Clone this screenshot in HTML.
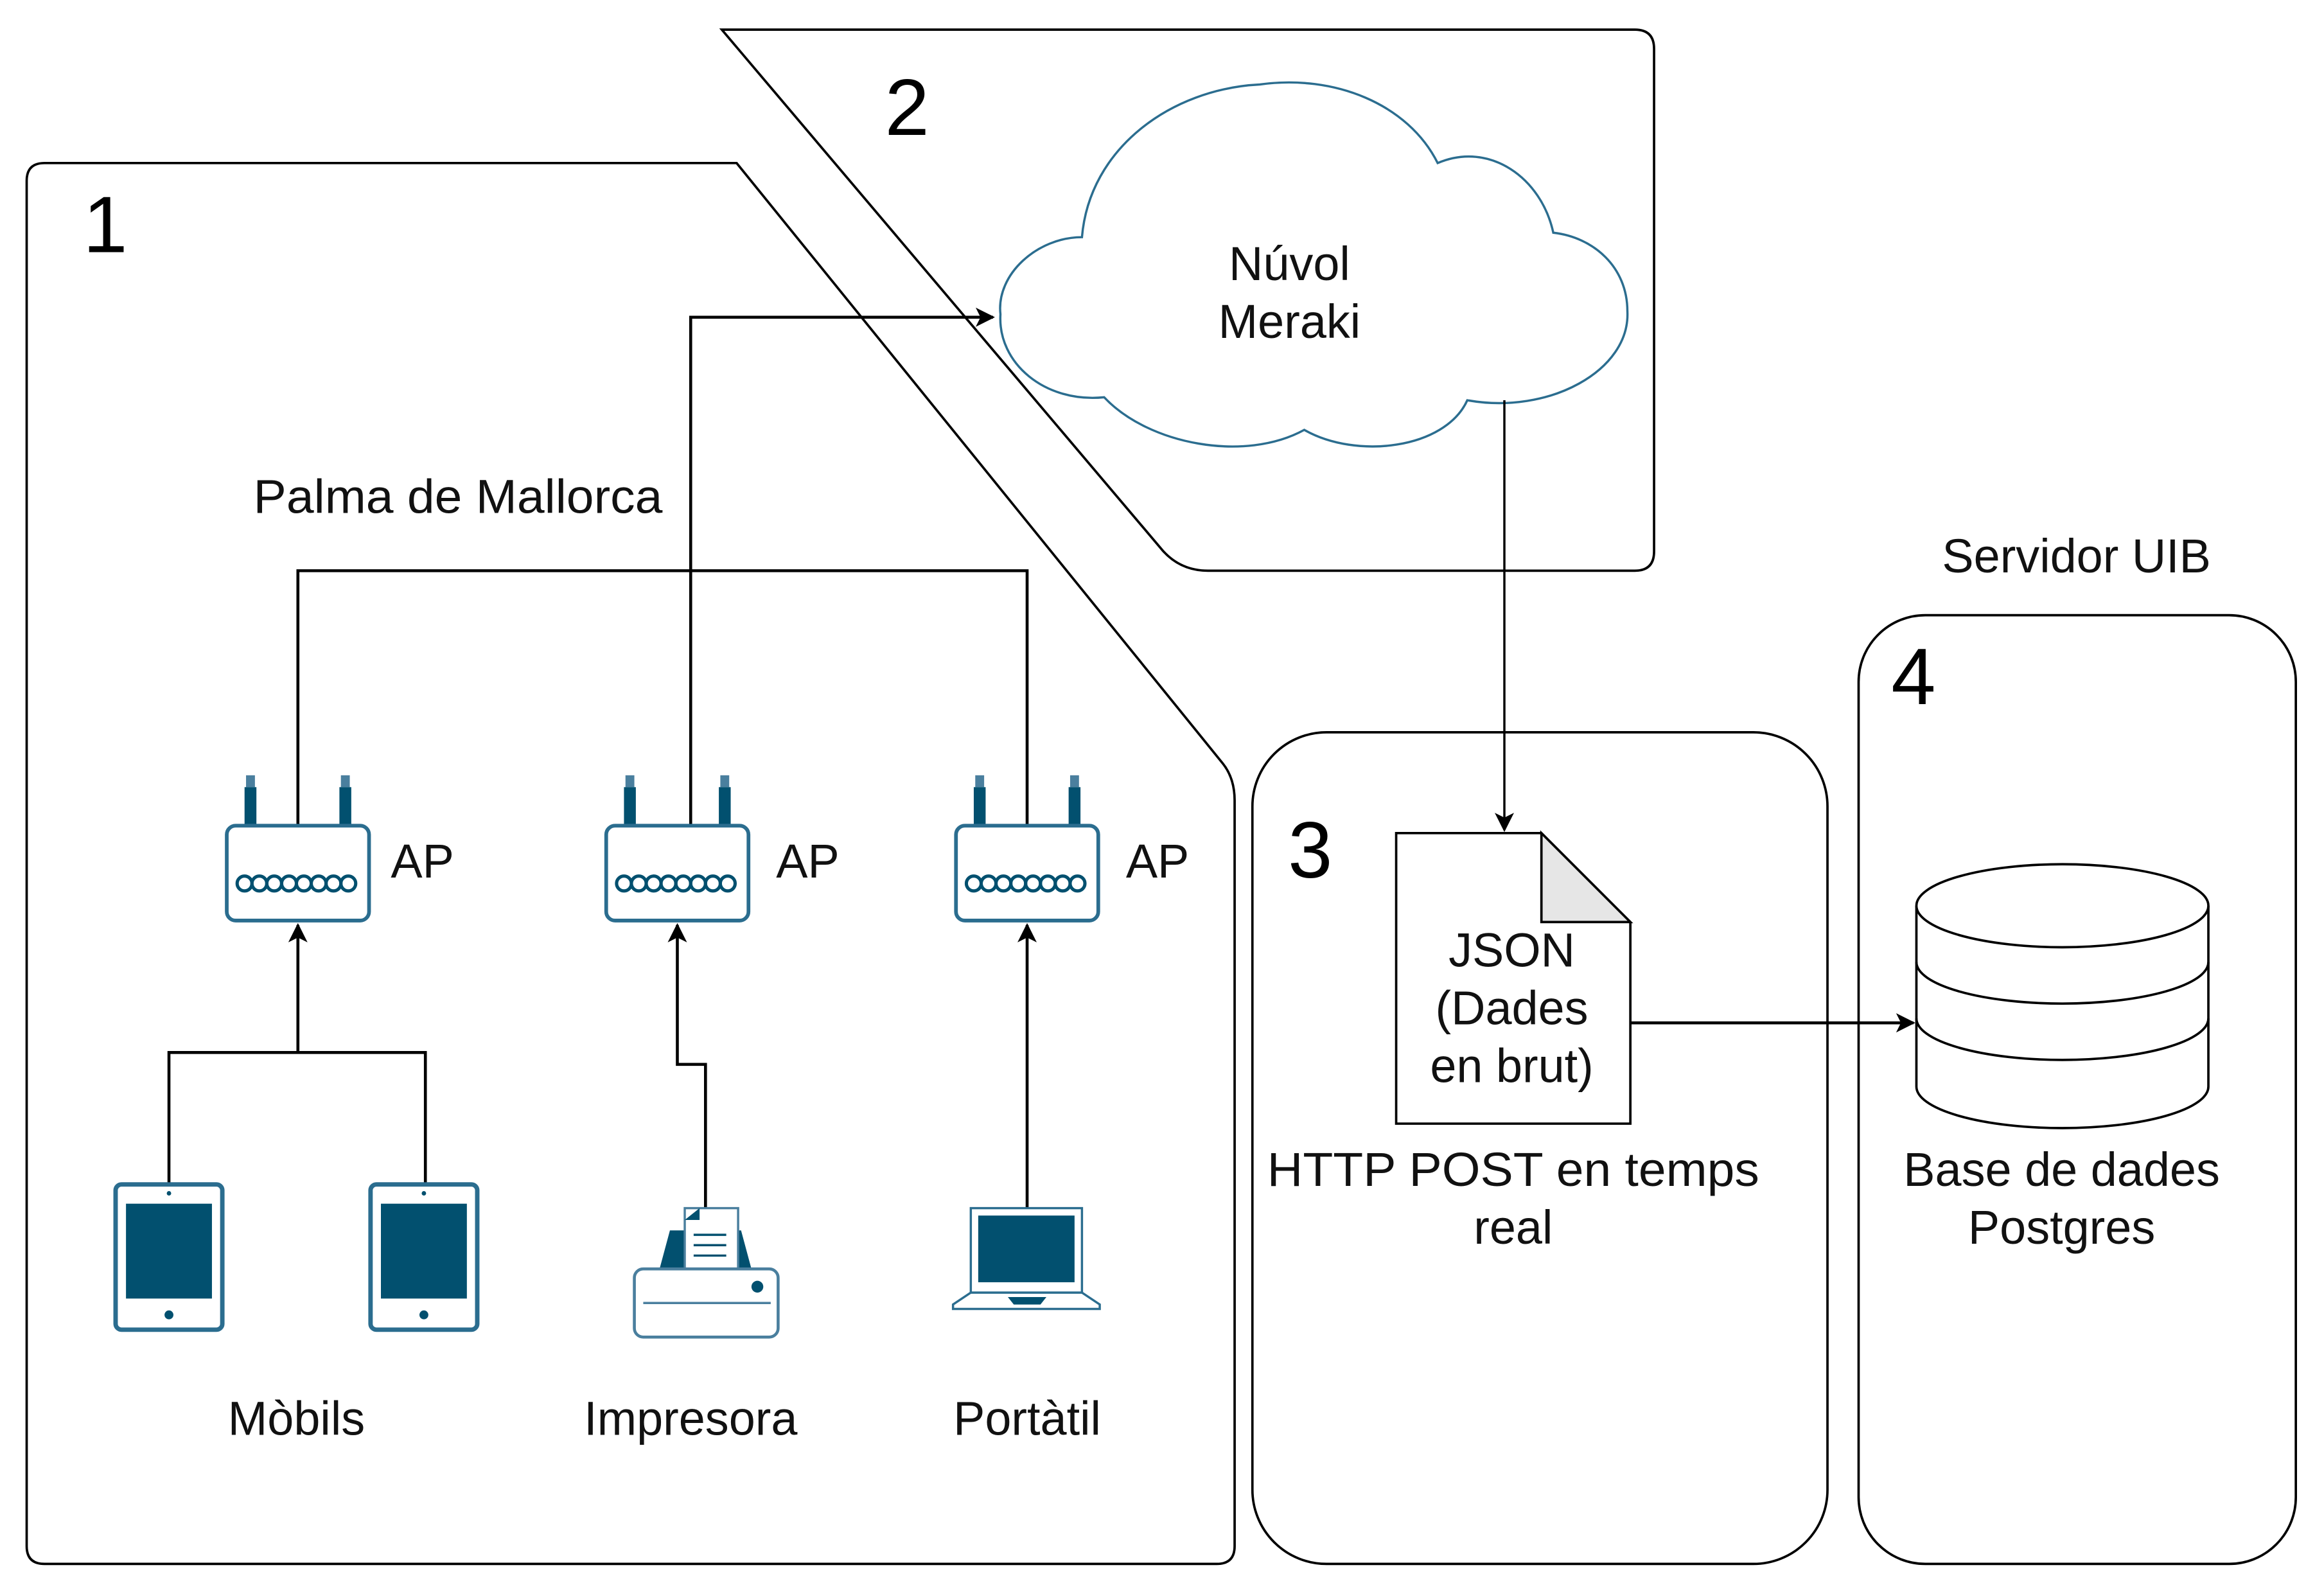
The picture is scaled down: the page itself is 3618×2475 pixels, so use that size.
<!DOCTYPE html>
<html><head><meta charset="utf-8"><style>html,body{margin:0;padding:0;background:#fff}svg{display:block}</style></head>
<body>
<svg width="3618" height="2475" viewBox="0 0 1568 1072.6" preserveAspectRatio="none" xmlns="http://www.w3.org/2000/svg" font-family="'Liberation Sans', sans-serif">
<defs>
<marker id="ar" viewBox="0 0 10 10" refX="9" refY="5" markerWidth="14" markerHeight="13" orient="auto" markerUnits="userSpaceOnUse"><path d="M0,0 L10,5 L0,10 L2.5,5 Z" fill="#000"/></marker>
<g id="ap">
 <rect x="-3" y="-34" width="6" height="8" fill="#4a7f9e"/><rect x="-4" y="-26" width="8" height="26" fill="#02506f"/>
</g>
<g id="router">
 <use href="#ap" x="-32"/><use href="#ap" x="32"/>
 <rect x="-48" y="0" width="96" height="64" rx="6" fill="#fff" stroke="#2b6d8f" stroke-width="2.5"/>
 <g fill="none" stroke="#02506f" stroke-width="2.2">
  <circle cx="-36" cy="39" r="5"/><circle cx="-26" cy="39" r="5"/><circle cx="-16" cy="39" r="5"/><circle cx="-6" cy="39" r="5"/><circle cx="4" cy="39" r="5"/><circle cx="14" cy="39" r="5"/><circle cx="24" cy="39" r="5"/><circle cx="34" cy="39" r="5"/>
 </g>
</g>
<g id="tablet">
 <rect x="0" y="0" width="72" height="98" rx="4" fill="#fff" stroke="#2b6d8f" stroke-width="3"/>
 <rect x="7" y="13" width="58" height="64" fill="#02506f"/>
 <circle cx="36" cy="88" r="3" fill="#02506f"/><circle cx="36" cy="6" r="1.5" fill="#02506f"/>
</g>
</defs>

<path d="M30,110 H497 L825,515 Q833,525 833,540 V1043 Q833,1055 821,1055 H30 Q18,1055 18,1043 V122 Q18,110 30,110 Z" fill="none" stroke="#000" stroke-width="1.6"/>
<path d="M487,20 H1103 Q1116,20 1116,33 V372 Q1116,385 1103,385 H815 Q797,385 785,372 Z" fill="none" stroke="#000" stroke-width="1.6"/>
<rect x="845" y="494" width="388" height="561" rx="50" fill="none" stroke="#000" stroke-width="1.6"/>
<rect x="1254" y="415" width="295" height="640" rx="45" fill="none" stroke="#000" stroke-width="1.6"/>

<g font-size="54" fill="#000">
<text x="56" y="170">1</text><text x="597" y="91">2</text><text x="869" y="592">3</text><text x="1276" y="475">4</text>
</g>

<path d="M730,160 C700,160 672,185 675,212 C673,245 705,272 745,268 C775,300 840,312 880,290 C915,310 975,303 990,270 C1045,280 1100,250 1098,210 C1098,180 1075,160 1048,157 C1040,120 1005,95 970,110 C950,70 900,50 850,57 C790,60 735,100 730,160 Z" fill="#fff" stroke="#2b6d8f" stroke-width="1.5"/>
<g font-size="32" text-anchor="middle" dominant-baseline="central" fill="#111">
<text x="870" y="178">Núvol</text><text x="870" y="217">Meraki</text>
<text x="309" y="335" textLength="276" lengthAdjust="spacingAndGlyphs">Palma de Mallorca</text>
<text x="1401" y="375">Servidor UIB</text>
<text x="285" y="581">AP</text><text x="545" y="581">AP</text><text x="781" y="581">AP</text>
<text x="200" y="957">Mòbils</text><text x="466" y="957">Impresora</text><text x="693" y="957">Portàtil</text>
<text x="1021" y="789" textLength="332" lengthAdjust="spacingAndGlyphs">HTTP POST en temps</text><text x="1021" y="828">real</text>
<text x="1391" y="789">Base de dades</text><text x="1391" y="828">Postgres</text>
</g>

<g fill="none" stroke="#000" stroke-width="2">
<path d="M466,556 V214 H670" marker-end="url(#ar)"/>
<path d="M1015,270 V560" stroke-width="1.5" marker-end="url(#ar)"/>
<path d="M201,557 V385 H693 V557"/>
<path d="M114,799 V710 H287 V799"/>
<path d="M201,710 V624" marker-end="url(#ar)"/>
<path d="M476,815 V718 H457 V624" marker-end="url(#ar)"/>
<path d="M693,815 V624" marker-end="url(#ar)"/>
<path d="M1100,690 H1291" marker-end="url(#ar)"/>
</g>

<use href="#router" x="201" y="557"/>
<use href="#router" x="457" y="557"/>
<use href="#router" x="693" y="557"/>

<use href="#tablet" x="78" y="799"/>
<use href="#tablet" x="250" y="799"/>

<g>
<path d="M445,856 L452,830 H463 V856 Z M490,856 V830 H500 L507,856 Z" fill="#02506f"/>
<rect x="462" y="815" width="36" height="42" fill="#fff" stroke="#4a7f9e" stroke-width="1.5"/>
<path d="M462,823 L472,815 V823 Z" fill="#02506f"/>
<g stroke="#02506f" stroke-width="1.5"><line x1="468" y1="833" x2="490" y2="833"/><line x1="468" y1="840" x2="490" y2="840"/><line x1="468" y1="847" x2="490" y2="847"/></g>
<rect x="428" y="856" width="97" height="46" rx="6" fill="#fff" stroke="#4a7f9e" stroke-width="2"/>
<line x1="434" y1="879" x2="520" y2="879" stroke="#4a7f9e" stroke-width="1.5"/>
<circle cx="511" cy="868" r="4" fill="#02506f"/>
</g>

<g>
<rect x="655" y="815" width="75" height="57" fill="#fff" stroke="#2b6d8f" stroke-width="1.5"/>
<rect x="660" y="820" width="65" height="45" fill="#02506f"/>
<path d="M655,872 L643,880 V883 H742 V880 L730,872 Z" fill="#fff" stroke="#2b6d8f" stroke-width="1.5"/>
<path d="M680,875 H706 L702,880 H684 Z" fill="#02506f"/>
</g>

<path d="M942,562 H1040 L1100,622 V758 H942 Z" fill="#fff" stroke="#000" stroke-width="1.6"/>
<path d="M1040,562 V622 H1100 Z" fill="#e6e6e6" stroke="#000" stroke-width="1.6"/>
<g font-size="32" text-anchor="middle" dominant-baseline="central" fill="#111">
<text x="1020" y="641">JSON</text><text x="1020" y="680">(Dades</text><text x="1020" y="719">en brut)</text>
</g>

<g fill="#fff" stroke="#000" stroke-width="1.6">
<path d="M1293,611 V733 A98.5,28 0 0 0 1490,733 V611"/>
<ellipse cx="1391.5" cy="611" rx="98.5" ry="28"/>
<path d="M1293,649 A98.5,28 0 0 0 1490,649" fill="none"/>
<path d="M1293,687 A98.5,28 0 0 0 1490,687" fill="none"/>
</g>
</svg>
</body></html>
